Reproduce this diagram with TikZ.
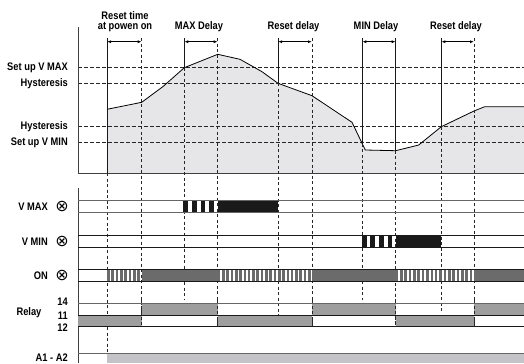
\documentclass[tikz,border=0pt]{standalone}
\usepackage{fontspec}
\setmainfont{Liberation Sans}[FakeStretch=0.85]
\newfontfamily\symfont{DejaVu Sans}
\usetikzlibrary{arrows.meta}
\definecolor{graphfill}{HTML}{E6E6E8}
\definecolor{ongray}{HTML}{6B6B6B}
\definecolor{relaygray}{HTML}{9E9E9E}
\definecolor{supgray}{HTML}{C4C4C8}
\definecolor{blk}{HTML}{1A1A1A}
\begin{document}
\begin{tikzpicture}[x=1bp,y=-1bp,
  lbl/.style={font=\bfseries\fontsize{11}{10}\selectfont, inner sep=0pt, anchor=east},
  toplbl/.style={font=\bfseries\fontsize{11}{10}\selectfont, inner sep=0pt, align=center},
  sym/.style={font=\symfont\fontsize{16}{16}\selectfont, inner sep=0pt},
  dline/.style={dash pattern=on 3bp off 2.5bp, line width=0.8bp, black!85},
  hline/.style={dash pattern=on 3.5bp off 2.5bp, line width=0.8bp, black!85},
  sline/.style={line width=0.8bp, black!90},
  rowline/.style={line width=0.9bp, black!60},
  rowdark/.style={line width=0.9bp, black!90},
  dim/.style={line width=0.8bp, {Latex[length=4bp,width=3bp]}-{Latex[length=4bp,width=3bp]}}]
\useasboundingbox (0,0) rectangle (524,363);

% ---------- analog graph ----------
\fill[graphfill] (107,173) -- (107,109.3) -- (141.7,102.3) -- (163.3,86.3) -- (184.3,67.7) -- (217.7,54.3) -- (240,59.3) -- (262,71.7) -- (278,83.3) -- (312,95.7) -- (352,122.3) -- (365.3,150) -- (395.7,150.7) -- (418.7,145) -- (441.3,126.7) -- (474,111) -- (484.7,106.7) -- (524,106.7) -- (524,173) -- cycle;

\coordinate (h1l) at (78,67.7);  \coordinate (h1r) at (524,67.7);
\coordinate (h2l) at (78,83.3);  \coordinate (h2r) at (524,83.3);
\coordinate (h3l) at (78,126.7); \coordinate (h3r) at (524,126.7);
\coordinate (h4l) at (78,142.7); \coordinate (h4r) at (524,142.7);
\draw[hline] (h1l) -- (h1r);
\draw[hline] (h2l) -- (h2r);
\draw[hline] (h3l) -- (h3r);
\draw[hline] (h4l) -- (h4r);

\draw[line width=0.8bp] (107,109.3) -- (141.7,102.3) -- (163.3,86.3) -- (184.3,67.7) -- (217.7,54.3) -- (240,59.3) -- (262,71.7) -- (278,83.3) -- (312,95.7) -- (352,122.3) -- (365.3,150) -- (395.7,150.7) -- (418.7,145) -- (441.3,126.7) -- (474,111) -- (484.7,106.7) -- (524,106.7);

% axes
\coordinate (axt) at (78,27); \coordinate (axo) at (78,173); \coordinate (axr) at (524,173);
\draw[line width=1bp, black!75] (axt) -- (axo) -- (axr);
\coordinate (ax2t) at (78,188); \coordinate (ax2b) at (78,363);
\draw[line width=1bp, black!75] (ax2t) -- (ax2b);

% vertical markers
\draw[sline] (107,38) -- (107,173);
\draw[dline] (107,173) -- (107,363);
\draw[dline] (141.7,38) -- (141.7,326.7);
\draw[sline] (184.3,38) -- (184.3,67.7);
\draw[dline] (184.3,67.7) -- (184.3,300);
\draw[dline] (217.7,38) -- (217.7,326.7);
\draw[sline] (278,38) -- (278,83.3);
\draw[dline] (278,83.3) -- (278,315);
\draw[dline] (312,38) -- (312,326.7);
\draw[sline] (362.3,38) -- (362.3,143.5);
\draw[dline] (362.3,143.5) -- (362.3,300);
\draw[sline] (395.7,38) -- (395.7,150.7);
\draw[dline] (395.7,150.7) -- (395.7,326.7);
\draw[sline] (441.3,38) -- (441.3,126.7);
\draw[dline] (441.3,126.7) -- (441.3,312.7);
\draw[dline] (474,38) -- (474,326.7);

% dimension arrows
\coordinate (d1a) at (107,41.7);   \coordinate (d1b) at (141.7,41.7);
\coordinate (d2a) at (184.3,41.7); \coordinate (d2b) at (217.7,41.7);
\coordinate (d3a) at (278,41.7);   \coordinate (d3b) at (312,41.7);
\coordinate (d4a) at (362.3,41.7); \coordinate (d4b) at (395.7,41.7);
\coordinate (d5a) at (441.3,41.7); \coordinate (d5b) at (474,41.7);
\draw[dim] (d1a) -- (d1b);
\draw[dim] (d2a) -- (d2b);
\draw[dim] (d3a) -- (d3b);
\draw[dim] (d4a) -- (d4b);
\draw[dim] (d5a) -- (d5b);

% top labels
\node[toplbl] (t1) at (125,21.5) {Reset time\\at powen on};
\node[toplbl] (t2) at (199,26.5) {MAX Delay};
\node[toplbl] (t3) at (293.5,26.5) {Reset delay};
\node[toplbl] (t4) at (376,26.5) {MIN Delay};
\node[toplbl] (t5) at (456,26.5) {Reset delay};

% left labels graph
\node[lbl] (lvmax) at (68,67.7) {Set up V MAX};
\node[lbl] (lhy1) at (68,83.3) {Hysteresis};
\node[lbl] (lhy2) at (68,126.7) {Hysteresis};
\node[lbl] (lvmin) at (68,142.7) {Set up V MIN};

% ---------- lower panel ----------
% V MAX row
\fill[blk] (217.7,200) rectangle (278,212.3);
\foreach \k in {0,1,2,3} {\fill[blk] ({183.3+8.6*\k},200) rectangle ({188.1+8.6*\k},212.3);}
\draw[rowline] (78,200) -- (524,200);
\draw[rowline] (78,212.3) -- (524,212.3);
% V MIN row
\fill[blk] (395.7,235) rectangle (441.3,247.7);
\foreach \k in {0,1,2,3} {\fill[blk] ({361.7+8.6*\k},235) rectangle ({366.5+8.6*\k},247.7);}
\draw[rowdark] (78,235) -- (524,235);
\draw[rowdark] (78,247.7) -- (524,247.7);
% ON row
\fill[ongray] (141.7,269.3) rectangle (217.7,281.7);
\fill[ongray] (312,269.3) rectangle (395.7,281.7);
\fill[ongray] (474,269.3) rectangle (524,281.7);
\foreach \k in {0,...,7} {\fill[ongray] ({107+4.33*\k},269.3) rectangle ({109.6+4.33*\k},281.7);}
\foreach \k in {0,...,21} {\fill[ongray] ({217.7+4.3*\k},269.3) rectangle ({220.3+4.3*\k},281.7);}
\foreach \k in {0,...,17} {\fill[ongray] ({395.7+4.35*\k},269.3) rectangle ({398.3+4.35*\k},281.7);}
\draw[rowdark] (78,269.3) -- (524,269.3);
\draw[rowdark] (78,281.7) -- (524,281.7);
% Relay
\fill[relaygray] (141.7,303.3) rectangle (217.7,315.3);
\fill[relaygray] (312,303.3) rectangle (395.7,315.3);
\fill[relaygray] (474,303.3) rectangle (524,315.3);
\fill[relaygray] (78,315.3) rectangle (141.7,326.7);
\fill[relaygray] (217.7,315.3) rectangle (312,326.7);
\fill[relaygray] (395.7,315.3) rectangle (474,326.7);
\draw[rowline] (78,303.3) -- (524,303.3);
\draw[rowdark] (78,315.3) -- (524,315.3);
\draw[rowdark] (78,326.7) -- (524,326.7);
% A1-A2
\fill[supgray] (107,353.3) rectangle (524,363);
\draw[rowline] (78,353.3) -- (524,353.3);

% redraw dashed markers over fills
\draw[dline] (141.7,300) -- (141.7,326.7);
\draw[dline] (217.7,300) -- (217.7,326.7);
\draw[dline] (312,300) -- (312,326.7);
\draw[dline] (395.7,300) -- (395.7,326.7);
\draw[dline] (474,300) -- (474,326.7);

% lower labels
\node[lbl] (lvmx) at (48,206.5) {V MAX};
\node[sym] (svmx) at (62,206) {⊗};
\node[lbl] (lvmn) at (48,241.5) {V MIN};
\node[sym] (svmn) at (62,241) {⊗};
\node[lbl] (lon) at (48,275.5) {ON};
\node[sym] (son) at (62,275.5) {⊗};
\node[lbl] (l14) at (68,301.7) {14};
\node[lbl] (l11) at (68,315.5) {11};
\node[lbl] (l12) at (68,327.7) {12};
\node[lbl, anchor=center] (lrel) at (29,312.5) {Relay};
\node[lbl] (la) at (68,357.5) {A1 - A2};
\end{tikzpicture}
\end{document}
